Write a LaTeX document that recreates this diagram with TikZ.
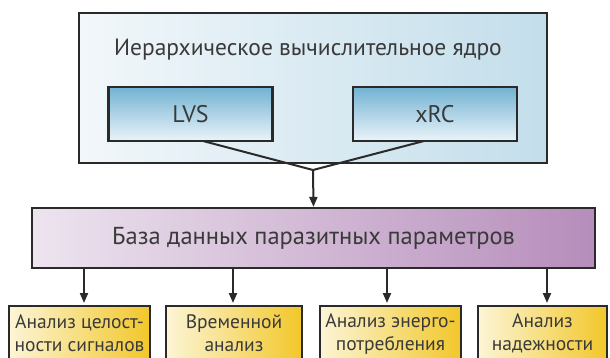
\documentclass[tikz,border=0pt]{standalone}
\usepackage{fontspec}
\setmainfont{PT Sans}
\usetikzlibrary{arrows.meta}
\definecolor{txt}{HTML}{3A3A3A}
\definecolor{edge}{HTML}{2A2A2A}
\definecolor{coreL}{HTML}{F2F7FA}
\definecolor{coreR}{HTML}{C3DEEB}
\definecolor{subT}{HTML}{72B2D2}
\definecolor{subB}{HTML}{EAF4F9}
\definecolor{dbL}{HTML}{EDE4EF}
\definecolor{dbM}{HTML}{F6F1F7}
\definecolor{dbR}{HTML}{B68DBB}
\definecolor{goldL}{HTML}{FCF5D6}
\definecolor{goldR}{HTML}{F2C72A}
\tikzset{
  boxbase/.style={draw=edge, line width=2.2pt, inner sep=0pt, text=txt},
  corebox/.style={boxbase, left color=coreL, right color=coreR, minimum width=468pt, minimum height=150pt},
  subbox/.style={boxbase, top color=subT, bottom color=subB, minimum width=164pt, minimum height=54pt, font=\fontsize{24}{26}\selectfont},
  dbbox/.style={boxbase, left color=dbL, middle color=dbM, right color=dbR, minimum width=563pt, minimum height=60pt, font=\fontsize{24.5}{26}\selectfont},
  anbox/.style={boxbase, left color=goldL, right color=goldR, minimum height=55pt, anchor=north, align=center, font=\fontsize{19.5}{23}\selectfont},
  conn/.style={draw=edge, line width=2pt},
  arr/.style={conn, -{Stealth[length=10pt, width=8pt, inset=0pt]}},
  lbl/.style={text=txt, inner sep=0pt}
}
\begin{document}
\begin{tikzpicture}[x=1pt, y=-1pt]
\useasboundingbox (0,0) rectangle (610,358);
\clip (0,0) rectangle (610,358);
\fill[white] (0,0) rectangle (610,358);
% core
\node[corebox] (core) at (313,88) {};
\node[lbl, font=\fontsize{23.5}{26}\selectfont] (title) at (308,50) {Иерархическое вычислительное ядро};
\node[subbox] (lvs) at (190.5,114) {LVS};
\node[subbox] (xrc) at (435,114) {xRC};
\coordinate (j) at (313,170);
\coordinate (lvsout) at (203,141);
\coordinate (xrcout) at (424,141);
\draw[conn] (lvsout) -- (j) -- (xrcout);
% database
\node[dbbox] (db) at (313.5,238) {База данных паразитных параметров};
\draw[arr] (j) -- (db.north);
% analyses
\node[anbox, minimum width=141pt] (a1) at (79.5,305) {Анализ целост-\\ности сигналов};
\node[anbox, minimum width=136pt] (a2) at (234,305) {Временной\\анализ};
\node[anbox, minimum width=141pt] (a3) at (390.5,305) {Анализ энерго-\\потребления};
\node[anbox, minimum width=129pt] (a4) at (542.5,305) {Анализ\\надежности};
\draw[arr] (db.south -| 84,0) -- (84,303);
\draw[arr] (db.south -| 233,0) -- (233,303);
\draw[arr] (db.south -| 387,0) -- (387,303);
\draw[arr] (db.south -| 547,0) -- (547,303);
\end{tikzpicture}
\end{document}
